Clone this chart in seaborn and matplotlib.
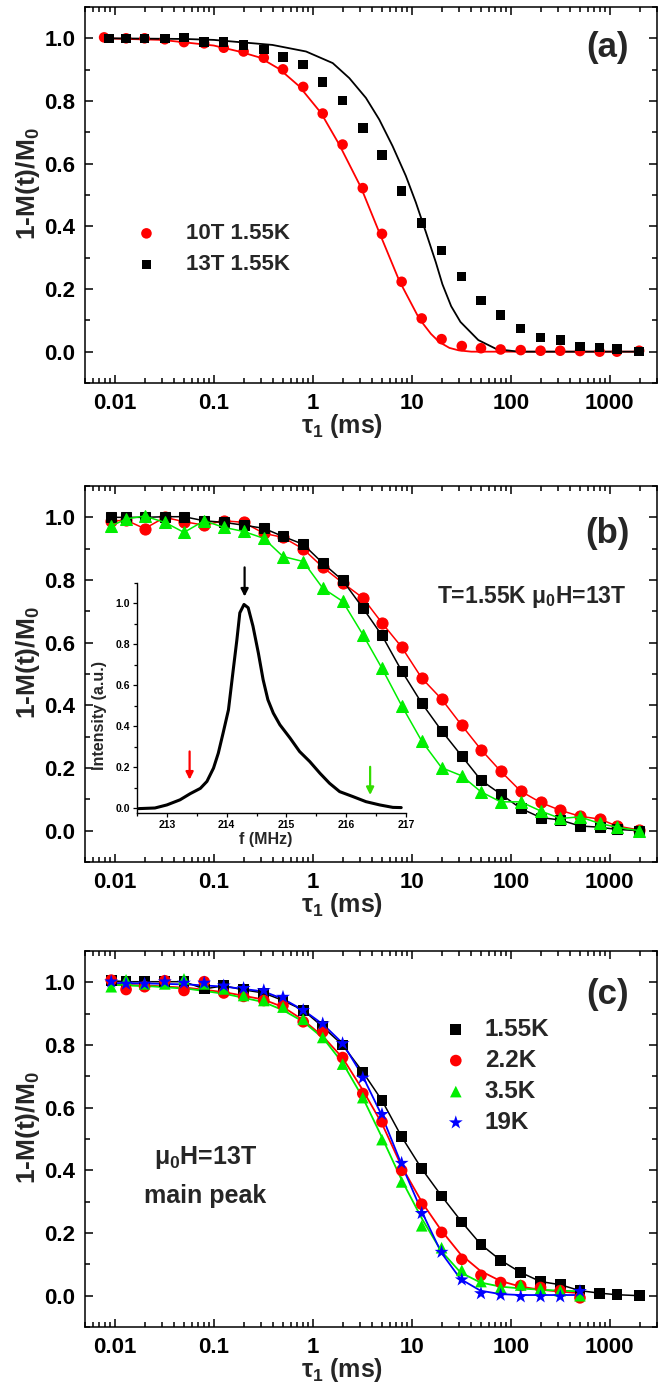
import numpy as np
import pandas as pd
import matplotlib
matplotlib.use("Agg")
import matplotlib.pyplot as plt
import seaborn as sns
from matplotlib.ticker import LogLocator, MultipleLocator, FuncFormatter, NullFormatter, FixedLocator

# ---------------- data ----------------
TAU = [0.0092, 0.013, 0.020, 0.032, 0.050, 0.080, 0.126, 0.20, 0.32, 0.50, 0.80, 1.26,
       2.0, 3.2, 5.0, 7.9, 12.6, 20, 32, 50, 79, 126, 200, 316, 500, 790, 1180, 1980]

# panel (a)
tau_a_red = [0.0078] + TAU[1:]
tau_a_black = [0.0087] + TAU[1:]
a_red_10T = [1.003, 1.0, 1.0, 0.997, 0.988, 0.984, 0.970, 0.958, 0.938, 0.901, 0.845, 0.760,
             0.661, 0.522, 0.376, 0.223, 0.106, 0.040, 0.018, 0.011, 0.007, 0.005, 0.003, 0.003,
             0.002, 0.0, 0.0, 0.003]
a_black_13T = [1.0, 1.0, 1.0, 1.0, 1.003, 0.988, 0.988, 0.979, 0.965, 0.941, 0.916, 0.860,
               0.802, 0.714, 0.627, 0.513, 0.410, 0.322, 0.239, 0.163, 0.117, 0.074, 0.045, 0.037,
               0.016, 0.014, 0.008, 0.0]
fit_a_red_x = [0.0078, 0.03, 0.1, 0.18, 0.29, 0.46, 0.73, 1.21, 1.85, 3.07, 4.69, 7.46, 11.9,
               15.6, 18.9, 24, 30, 40, 100, 2000]
fit_a_red_y = [1.0, 0.995, 0.977, 0.958, 0.939, 0.902, 0.847, 0.762, 0.661, 0.524, 0.381, 0.227,
               0.105, 0.057, 0.031, 0.012, 0.004, 0.0, 0.0, 0.0]
fit_a_black_x = [0.0087, 0.05, 0.1, 0.18, 0.39, 0.855, 1.59, 2.34, 3.44, 4.69, 6.4, 8.71, 11.0,
                 13.9, 17.5, 20.4, 25, 31, 47, 72, 120, 2000]
fit_a_black_y = [1.0, 0.998, 0.995, 0.988, 0.979, 0.958, 0.921, 0.873, 0.810, 0.741, 0.656, 0.561,
                 0.476, 0.381, 0.285, 0.215, 0.145, 0.095, 0.037, 0.008, 0.0, 0.0]

# panel (b)
b_black_main = [1.0, 1.0, 1.0, 1.002, 1.002, 0.989, 0.984, 0.975, 0.965, 0.939, 0.914, 0.854,
                0.799, 0.711, 0.623, 0.510, 0.407, 0.319, 0.238, 0.161, 0.117, 0.071, 0.042,
                0.034, 0.015, 0.011, 0.004, 0.0]
b_red_low = [0.988, 0.991, 0.964, 1.0, 0.986, 0.975, 0.989, 0.984, 0.949, 0.936, 0.899, 0.841,
             0.791, 0.743, 0.663, 0.586, 0.487, 0.420, 0.336, 0.259, 0.190, 0.126, 0.090, 0.065,
             0.046, 0.037, 0.015, 0.002]
b_green_high = [0.972, 0.995, 1.004, 0.984, 0.952, 0.989, 0.968, 0.955, 0.933, 0.875, 0.859,
                0.774, 0.732, 0.626, 0.518, 0.399, 0.286, 0.201, 0.175, 0.124, 0.092, 0.092,
                0.063, 0.039, 0.044, 0.023, 0.011, 0.0]

# inset spectrum
spec_f = [212.53, 212.8, 213.0, 213.22, 213.39, 213.56, 213.67, 213.78, 213.86, 213.94, 214.03,
          214.11, 214.17, 214.22, 214.29, 214.36, 214.44, 214.53, 214.61, 214.69, 214.78, 214.89,
          215.06, 215.22, 215.39, 215.56, 215.72, 215.89, 216.11, 216.33, 216.56, 216.78, 216.92]
spec_i = [-0.003, 0.0, 0.015, 0.04, 0.07, 0.096, 0.13, 0.195, 0.268, 0.366, 0.48, 0.676, 0.82,
          0.954, 0.995, 0.979, 0.889, 0.758, 0.627, 0.529, 0.464, 0.407, 0.342, 0.276, 0.227,
          0.170, 0.121, 0.080, 0.056, 0.031, 0.015, 0.003, 0.002]

# panel (c)
TAU_C = TAU[:25]
c_155K = [1.005, 1.002, 1.002, 1.002, 1.002, 0.979, 0.989, 0.976, 0.966, 0.942, 0.911, 0.858,
          0.800, 0.714, 0.623, 0.507, 0.405, 0.318, 0.235, 0.163, 0.113, 0.074, 0.045, 0.035,
          0.016, 0.008, 0.003, 0.0]
c_22K = [1.007, 0.977, 0.986, 1.005, 0.974, 1.002, 0.966, 0.955, 0.942, 0.926, 0.874, 0.842,
         0.760, 0.645, 0.555, 0.400, 0.292, 0.202, 0.116, 0.065, 0.042, 0.032, 0.026, 0.016, -0.007]
c_35K = [0.986, 1.008, 0.995, 0.995, 1.011, 0.995, 0.979, 0.958, 0.942, 0.921, 0.882, 0.824,
         0.739, 0.632, 0.498, 0.363, 0.223, 0.153, 0.081, 0.045, 0.026, 0.034, 0.023, 0.016, 0.0]
c_19K = [1.002, 0.995, 0.995, 1.002, 0.998, 0.998, 0.989, 0.981, 0.974, 0.953, 0.911, 0.868,
         0.805, 0.695, 0.579, 0.423, 0.263, 0.139, 0.051, 0.007, 0.002, -0.003, -0.003, -0.003, 0.014]
fit_c_x = [0.0092, 0.0242, 0.0562, 0.131, 0.318, 0.502, 0.805, 1.28, 2.01, 3.2, 5.0, 7.94, 12.85,
           19.9, 31.1, 49.4, 78.5, 125, 199, 316, 501]
fit_c_22K = [0.993, 0.989, 0.982, 0.968, 0.945, 0.921, 0.879, 0.826, 0.758, 0.656, 0.549, 0.411,
             0.295, 0.208, 0.132, 0.079, 0.047, 0.029, 0.019, 0.013, 0.008]
fit_c_35K = [0.992, 0.987, 0.979, 0.963, 0.937, 0.911, 0.874, 0.821, 0.742, 0.632, 0.505, 0.368,
             0.242, 0.142, 0.074, 0.042, 0.029, 0.023, 0.019, 0.016, 0.014]
fit_c_19K = [0.998, 0.996, 0.993, 0.986, 0.971, 0.947, 0.911, 0.865, 0.805, 0.700, 0.574, 0.416,
             0.263, 0.137, 0.053, 0.016, 0.005, 0.002, 0.002, 0.002, 0.002]

X_TICKS = [0.01, 0.1, 1, 10, 100, 1000]
Y_TICKS = [0.0, 0.2, 0.4, 0.6, 0.8, 1.0]

# ---------------- style ----------------
sns.set_theme(style="ticks")
plt.rcParams['font.family'] = ['Liberation Sans', 'DejaVu Sans']
plt.rcParams['font.weight'] = 'bold'
plt.rcParams['axes.labelweight'] = 'bold'
plt.rcParams['mathtext.fontset'] = 'custom'
plt.rcParams['mathtext.rm'] = 'Liberation Sans:bold'
plt.rcParams['mathtext.bf'] = 'Liberation Sans:bold'
plt.rcParams['mathtext.it'] = 'Liberation Sans'
plt.rcParams['axes.linewidth'] = 1.1

RED, GREEN, BLUE, BLACK = '#ff0000', '#00ee00', '#0000ff', '#000000'

W, H = 658, 1387
fig = plt.figure(figsize=(W / 100, H / 100), dpi=100)

def add_main(top_px):
    left, right, height = 85, 657, 376
    return fig.add_axes([left / W, 1 - (top_px + height) / H, (right - left) / W, height / H])

ax_a = add_main(7)
ax_b = add_main(486)
ax_c = add_main(951)

def style_main(ax):
    ax.set_xscale('log')
    ax.set_xlim(0.005, 3000)
    ax.set_ylim(-0.1, 1.1)
    ax.xaxis.set_major_locator(FixedLocator(X_TICKS))
    ax.xaxis.set_major_formatter(FuncFormatter(lambda v, p: f"{v:g}"))
    ax.xaxis.set_minor_locator(LogLocator(base=10, subs=np.arange(2, 10)))
    ax.xaxis.set_minor_formatter(NullFormatter())
    ax.yaxis.set_major_locator(FixedLocator(Y_TICKS))
    ax.yaxis.set_major_formatter(FuncFormatter(lambda v, p: f"{v:.1f}"))
    ax.yaxis.set_minor_locator(MultipleLocator(0.1))
    ax.tick_params(which='both', direction='in', top=True, right=True, width=1.1, colors='black')
    ax.tick_params(which='major', length=6, labelsize=16, pad=7)
    ax.tick_params(which='minor', length=3.5)
    for lab in ax.get_xticklabels() + ax.get_yticklabels():
        lab.set_fontweight('bold')
    ax.set_xlabel(r"$\tau_1$ (ms)", fontsize=18, fontweight='bold')
    ax.set_ylabel("1-M(t)/M$_0$", fontsize=19, fontweight='bold')
    ax.xaxis.set_label_coords(0.45, -0.078)
    ax.yaxis.set_label_coords(-0.075, 0.53)
    for s in ax.spines.values():
        s.set_color('black')
        s.set_linewidth(1.1)
    ax.set_facecolor('white')

# ---------------- panel (a) ----------------
sns.lineplot(x=fit_a_red_x, y=fit_a_red_y, ax=ax_a, color=RED, lw=1.3, estimator=None, sort=False)
sns.lineplot(x=fit_a_black_x, y=fit_a_black_y, ax=ax_a, color=BLACK, lw=1.3, estimator=None, sort=False)
sns.scatterplot(x=tau_a_red, y=a_red_10T, ax=ax_a, marker='o', s=58, color=RED,
                edgecolor='none', label='10T 1.55K', zorder=3)
sns.scatterplot(x=tau_a_black, y=a_black_13T, ax=ax_a, marker='s', s=46, color=BLACK,
                edgecolor='none', label='13T 1.55K', zorder=4)
style_main(ax_a)
ax_a.legend(loc='upper left', bbox_to_anchor=(0.088, 0.425), frameon=False,
            handlelength=1.0, handletextpad=1.3, labelspacing=0.45, borderpad=0, borderaxespad=0,
            prop={'weight': 'bold', 'size': 16})
ax_a.text(0.914, 0.891, "(a)", transform=ax_a.transAxes, ha='center', va='center',
          fontsize=25, fontweight='bold')

# ---------------- panel (b) ----------------
sns.lineplot(x=TAU, y=b_red_low, ax=ax_b, color=RED, lw=1.1, marker='o', markersize=8,
             markeredgecolor=RED, estimator=None, sort=False, zorder=2)
sns.lineplot(x=TAU, y=b_black_main, ax=ax_b, color=BLACK, lw=1.1, marker='s', markersize=7,
             markeredgecolor=BLACK, estimator=None, sort=False, zorder=3)
sns.lineplot(x=TAU, y=b_green_high, ax=ax_b, color=GREEN, lw=1.1, marker='^', markersize=8,
             markeredgecolor=GREEN, estimator=None, sort=False, zorder=4)
style_main(ax_b)
ax_b.text(0.914, 0.875, "(b)", transform=ax_b.transAxes, ha='center', va='center',
          fontsize=25, fontweight='bold')
ax_b.text(0.781, 0.705, "T=1.55K $\\mu_0$H=13T", transform=ax_b.transAxes, ha='center',
          va='center', fontsize=16.5, fontweight='bold')

# inset
ax_in = fig.add_axes([137 / W, 1 - 812.7 / H, 269 / W, 229.7 / H])
ax_in.set_facecolor('none')
sns.lineplot(x=spec_f, y=spec_i, ax=ax_in, color=BLACK, lw=2.2, estimator=None, sort=False)
ax_in.set_xlim(212.5, 217)
ax_in.set_ylim(-0.023, 1.1)
ax_in.set_xticks([213, 214, 215, 216, 217])
ax_in.set_yticks([0.0, 0.2, 0.4, 0.6, 0.8, 1.0])
ax_in.yaxis.set_major_formatter(FuncFormatter(lambda v, p: f"{v:.1f}"))
ax_in.yaxis.set_minor_locator(MultipleLocator(0.1))
ax_in.xaxis.set_minor_locator(MultipleLocator(0.5))
ax_in.tick_params(which='both', direction='out', width=0.9, colors='black')
ax_in.tick_params(which='major', length=3, labelsize=7.5, pad=2)
ax_in.tick_params(which='minor', length=2)
for lab in ax_in.get_xticklabels() + ax_in.get_yticklabels():
    lab.set_fontweight('bold')
ax_in.spines['top'].set_visible(False)
ax_in.spines['right'].set_visible(False)
for s in ['left', 'bottom']:
    ax_in.spines[s].set_color('black')
    ax_in.spines[s].set_linewidth(1.0)
ax_in.set_xlabel("f (MHz)", fontsize=11.5, fontweight='bold')
ax_in.set_ylabel("Intensity (a.u.)", fontsize=11.5, fontweight='bold')
ax_in.xaxis.set_label_coords(0.48, -0.085)
ax_in.yaxis.set_label_coords(-0.11, 0.425)
arrow_kw = dict(arrowstyle='-|>', lw=1.6, mutation_scale=11)
ax_in.annotate('', xy=(214.3, 1.02), xytext=(214.3, 1.19),
               arrowprops=dict(color=BLACK, **arrow_kw), annotation_clip=False)
ax_in.annotate('', xy=(213.38, 0.125), xytext=(213.38, 0.29),
               arrowprops=dict(color=RED, **arrow_kw), annotation_clip=False)
ax_in.annotate('', xy=(216.4, 0.05), xytext=(216.4, 0.215),
               arrowprops=dict(color='#33dd00', **arrow_kw), annotation_clip=False)

# ---------------- panel (c) ----------------
sns.lineplot(x=TAU, y=c_155K, ax=ax_c, color=BLACK, lw=1.1, estimator=None, sort=False, zorder=2)
sns.lineplot(x=fit_c_x, y=fit_c_22K, ax=ax_c, color=RED, lw=1.3, estimator=None, sort=False, zorder=2)
sns.lineplot(x=fit_c_x, y=fit_c_35K, ax=ax_c, color=GREEN, lw=1.3, estimator=None, sort=False, zorder=2)
sns.lineplot(x=fit_c_x, y=fit_c_19K, ax=ax_c, color=BLUE, lw=1.3, estimator=None, sort=False, zorder=2)
sns.scatterplot(x=TAU, y=c_155K, ax=ax_c, marker='s', s=60, color=BLACK, edgecolor='none',
                label='1.55K', zorder=3)
sns.scatterplot(x=TAU_C, y=c_22K, ax=ax_c, marker='o', s=70, color=RED, edgecolor='none',
                label='2.2K', zorder=4)
sns.scatterplot(x=TAU_C, y=c_35K, ax=ax_c, marker='^', s=70, color=GREEN, edgecolor='none',
                label='3.5K', zorder=5)
sns.scatterplot(x=TAU_C, y=c_19K, ax=ax_c, marker='*', s=110, color=BLUE, edgecolor='none',
                label='19K', zorder=6)
style_main(ax_c)
ax_c.legend(loc='upper left', bbox_to_anchor=(0.627, 0.822), frameon=False,
            handlelength=1.0, handletextpad=0.7, labelspacing=0.33, borderpad=0, borderaxespad=0,
            prop={'weight': 'bold', 'size': 17.5})
ax_c.text(0.914, 0.883, "(c)", transform=ax_c.transAxes, ha='center', va='center',
          fontsize=25, fontweight='bold')
ax_c.text(0.21, 0.452, "$\\mu_0$H=13T", transform=ax_c.transAxes, ha='center', va='center',
          fontsize=18, fontweight='bold')
ax_c.text(0.21, 0.348, "main peak", transform=ax_c.transAxes, ha='center', va='center',
          fontsize=18, fontweight='bold')

fig.savefig("out.png", dpi=100, facecolor='white')
